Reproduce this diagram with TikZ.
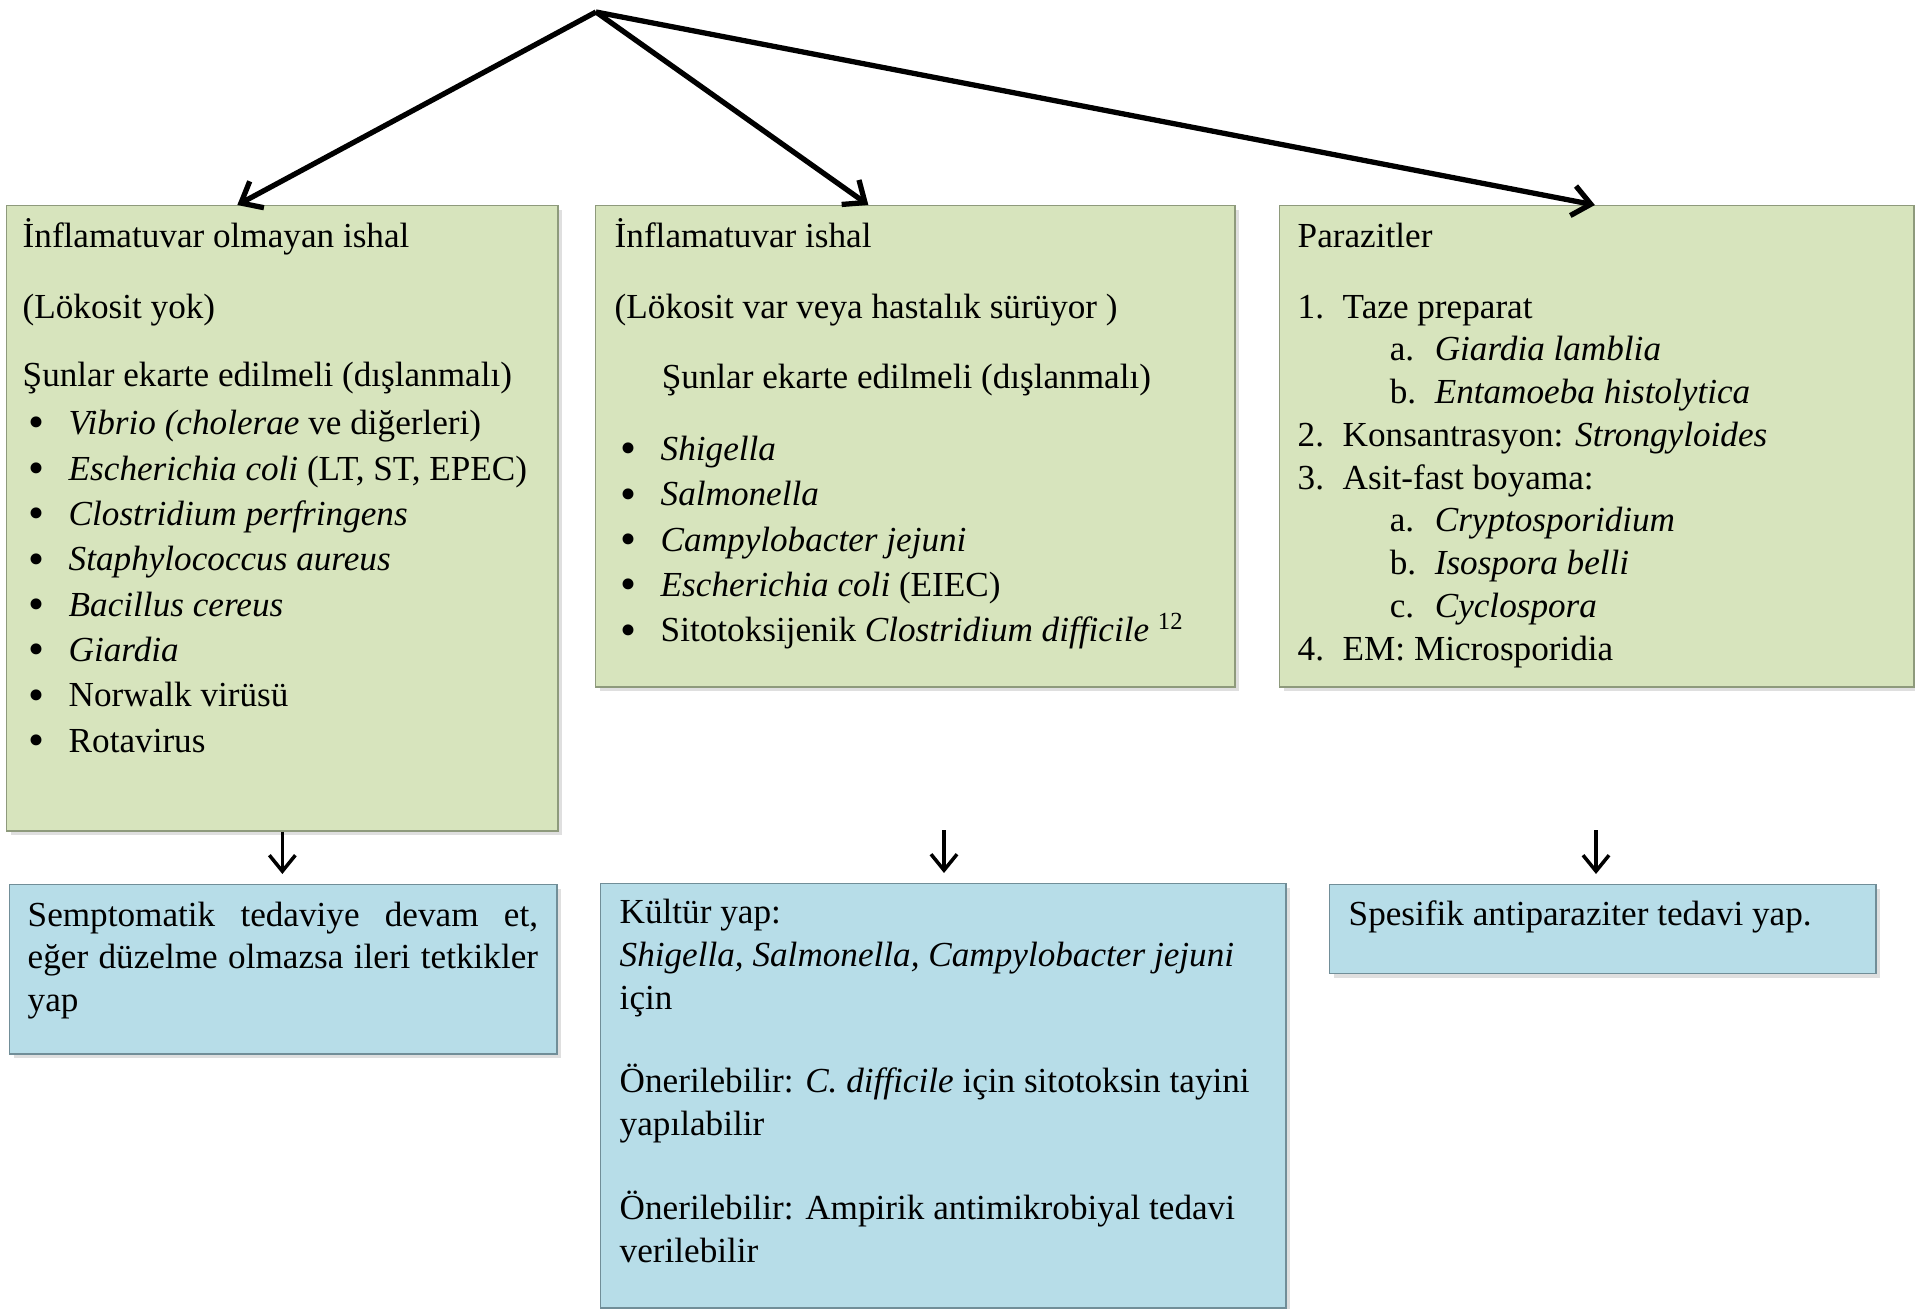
\documentclass[tikz,border=0pt]{standalone}
\usepackage{fontspec}
\setmainfont{Liberation Serif}
\usetikzlibrary{arrows.meta}
\usetikzlibrary{shadows}

\definecolor{olivefill}{HTML}{D7E4BD}
\definecolor{oliveline}{HTML}{8E9A7C}
\definecolor{skyfill}{HTML}{B7DDE8}
\definecolor{skyline}{HTML}{718E98}

\newcommand{\tp}{\rule{0pt}{9pt}}
\newcommand{\bul}{\hspace*{0.06cm}\makebox[0.40cm][l]{\raisebox{-0.9pt}{\fontsize{13}{13}\selectfont\textbullet}}}
\newcommand{\enm}[1]{\makebox[0.45cm][l]{#1}}
\newcommand{\subenm}[1]{\hspace*{0.92cm}\makebox[0.45cm][l]{#1}}

\tikzset{
	greenbox/.style={draw=oliveline, fill=olivefill, anchor=north west, inner sep=0pt,
		drop shadow={shadow xshift=0.04cm, shadow yshift=-0.04cm, opacity=0.25}},
	bluebox/.style={draw=skyline, fill=skyfill, anchor=north west, inner sep=0pt,
		drop shadow={shadow xshift=0.04cm, shadow yshift=-0.04cm, opacity=0.25}},
	boxtext/.style={anchor=north west, inner sep=0pt, align=left, font=\fontsize{10}{12.9}\selectfont},
	mainarrow/.style={-{Straight Barb[length=1.8mm,width=3mm]}, line width=1.5pt},
	downarrow/.style={-{Straight Barb[length=1.6mm,width=2.6mm]}, line width=1pt, shorten >=0.1cm}
}

\begin{document}
\begin{tikzpicture}[x=0.01cm,y=-0.01cm]
		\useasboundingbox (0,0) rectangle (1915,1309);
		\coordinate (top) at (596,12);
		
		\node[greenbox, minimum width=5.51cm, minimum height=6.25cm] (noninf) at (6,205) {};
		\node[greenbox, minimum width=6.39cm, minimum height=4.81cm] (inf) at (595,205) {};
		\node[greenbox, minimum width=6.34cm, minimum height=4.81cm] (para) at (1279,205) {};
		
		\node[boxtext] (noninftxt) at ([xshift=0.16cm,yshift=-0.1cm]noninf.north west) {\tp İnflamatuvar olmayan ishal\\[7.3pt]
			(Lökosit yok)\\[6.5pt]
			Şunlar ekarte edilmeli (dışlanmalı)\\[0.8pt]
			\bul\textit{Vibrio (cholerae} ve diğerleri)\\
			\bul\textit{Escherichia coli} (LT, ST, EPEC)\\
			\bul\textit{Clostridium perfringens}\\
			\bul\textit{Staphylococcus aureus}\\
			\bul\textit{Bacillus cereus}\\
			\bul\textit{Giardia}\\
			\bul Norwalk virüsü\\
			\bul Rotavirus};
		\node[boxtext] (inftxt) at ([xshift=0.19cm,yshift=-0.1cm]inf.north west) {\tp İnflamatuvar ishal\\[7.3pt]
			(Lökosit var veya hastalık sürüyor )\\[7pt]
			\hspace*{0.47cm}Şunlar ekarte edilmeli (dışlanmalı)\\[7.6pt]
			\bul\textit{Shigella}\\
			\bul\textit{Salmonella}\\
			\bul\textit{Campylobacter jejuni}\\
			\bul\textit{Escherichia coli} (EIEC)\\
			\bul Sitotoksijenik \textit{Clostridium difficile} \textsuperscript{12}};
		\node[boxtext, font=\fontsize{10}{12.15}\selectfont] (paratxt) at ([xshift=0.18cm,yshift=-0.1cm]para.north west) {\tp Parazitler\\[8pt]
			\enm{1.}Taze preparat\\
			\subenm{a.}\textit{Giardia lamblia}\\
			\subenm{b.}\textit{Entamoeba histolytica}\\
			\enm{2.}Konsantrasyon: \textit{Strongyloides}\\
			\enm{3.}Asit-fast boyama:\\
			\subenm{a.}\textit{Cryptosporidium}\\
			\subenm{b.}\textit{Isospora belli}\\
			\subenm{c.}\textit{Cyclospora}\\
			\enm{4.}EM: Microsporidia};
		
		\node[bluebox, minimum width=5.47cm, minimum height=1.69cm] (symp) at (9,884) {};
		\node[bluebox, minimum width=6.85cm, minimum height=4.24cm] (kultur) at (600,883) {};
		\node[bluebox, minimum width=5.46cm, minimum height=0.89cm] (anti) at (1329,884) {};
		
		\node[boxtext, text width=5.10cm, align=justify, font=\fontsize{10}{12.1}\selectfont] (symptxt) at ([xshift=0.18cm,yshift=-0.1cm]symp.north west) {\tp Semptomatik tedaviye devam et,\linebreak eğer düzelme olmazsa ileri tetkikler\linebreak yap};
		\node[boxtext, font=\fontsize{10}{12.2}\selectfont] (kulturtxt) at ([xshift=0.19cm,yshift=-0.08cm]kultur.north west) {\tp Kültür yap:\\
			\textit{Shigella, Salmonella, Campylobacter jejuni}\\
			için\\[11.4pt]
			Önerilebilir: \textit{C. difficile} için sitotoksin tayini\\
			yapılabilir\\[11.8pt]
			Önerilebilir: Ampirik antimikrobiyal tedavi\\
			verilebilir};
		\node[boxtext] (antitxt) at ([xshift=0.19cm,yshift=-0.09cm]anti.north west) {\tp Spesifik antiparaziter tedavi yap.};
		
		\draw[mainarrow] (top) -- ([xshift=-0.45cm]noninf.north);
		\draw[mainarrow] (top) -- ([xshift=-0.47cm]inf.north);
		\draw[mainarrow] (top) -- ([xshift=-0.02cm]para.north);
		
		\coordinate (d2) at (944,830);
		\coordinate (d3) at (1596,830);
		\draw[downarrow] (noninf.south) -- (noninf.south |- symp.north);
		\draw[downarrow] (d2) -- (d2 |- kultur.north);
		\draw[downarrow] (d3) -- (d3 |- anti.north);
		
\end{tikzpicture}
\end{document}
